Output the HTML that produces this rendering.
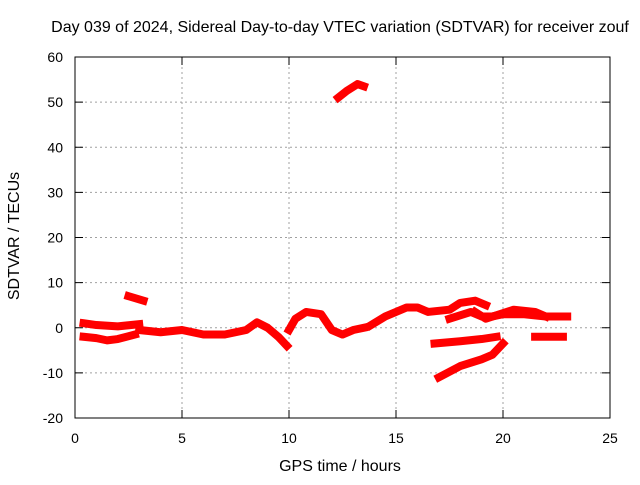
<!DOCTYPE html>
<html><head><meta charset="utf-8"><style>
body{margin:0;background:#fff}
text{font-family:"Liberation Sans",sans-serif;font-size:14px;fill:#000}
.big{font-size:16px}
</style></head><body>
<svg id="c" width="640" height="480">
<text class="big" x="340" y="32" text-anchor="middle">Day 039 of 2024, Sidereal Day-to-day VTEC variation (SDTVAR) for receiver zouf</text>
<text class="big" x="340" y="471" text-anchor="middle">GPS time / hours</text>
<text class="big" transform="translate(19,236) rotate(-90)" text-anchor="middle">SDTVAR / TECUs</text>
<g id="grid"></g><g id="series"></g>
<rect x="75" y="57" width="535" height="361" fill="none" stroke="#000"/>
</svg>
<script>
const xTicks=[0,5,10,15,20,25];
const yTicks=[-20,-10,0,10,20,30,40,50,60];
const tracks=[
[[0.4,1],[1,0.6],[2,0.3],[3,0.8]],
[[0.4,-2],[1,-2.3],[1.5,-2.8],[2,-2.5],[2.8,-1.5]],
[[2.5,7],[3.2,6]],
[[3,-0.5],[4,-1],[5,-0.5],[6,-1.5],[7,-1.5],[8,-0.5],[8.5,1.2],[9,0],[9.5,-2],[9.9,-4]],
[[10,-0.5],[10.3,2],[10.8,3.5],[11.5,3],[12,-0.5],[12.5,-1.5],[13,-0.5],[13.5,0]],
[[12.3,51],[12.7,52.5],[13.2,54],[13.5,53.5]],
[[13.8,0.5],[14.5,2.5],[15.5,4.5],[16,4.5],[16.5,3.5],[17.5,4],[18,5.5],[18.7,6],[19.2,5]],
[[17.5,2],[18.5,3.5],[19,2.5],[19.5,2.5],[20,3],[21,3],[22,2.5],[23,2.5]],
[[18.7,3.5],[19.2,2],[20.5,4],[21.5,3.5],[22,2.5]],
[[16.8,-3.5],[18,-3],[19,-2.5],[19.7,-2]],
[[17,-11],[18,-8.5],[19,-7],[19.5,-6],[20,-3.5]],
[[21.5,-2],[22.8,-2]]
];
const X=v=>75+v*535/25, Y=v=>418-(v+20)*361/80;
const NS="http://www.w3.org/2000/svg";
const g=document.getElementById('grid'), s=document.getElementById('series');
function mk(t,a,p){const e=document.createElementNS(NS,t);for(const k in a)e.setAttribute(k,a[k]);p.appendChild(e);return e;}
xTicks.forEach(v=>{
 if(v>0&&v<25){const l=mk('line',{x1:X(v),x2:X(v),y1:57,y2:418,stroke:'#a0a0a0','stroke-dasharray':'2,3'},g);
 
 }
 mk('line',{x1:X(v),x2:X(v),y1:418,y2:410,stroke:'#000'},g);
 mk('line',{x1:X(v),x2:X(v),y1:57,y2:65,stroke:'#000'},g);
 const t=mk('text',{x:X(v),y:443,'text-anchor':'middle'},g);t.textContent=v;
 
 
});
yTicks.forEach(v=>{
 if(v>-20&&v<60){const l=mk('line',{x1:75,x2:610,y1:Y(v),y2:Y(v),stroke:'#a0a0a0','stroke-dasharray':'2,3'},g);
 
 }
 mk('line',{x1:75,x2:83,y1:Y(v),y2:Y(v),stroke:'#000'},g);
 mk('line',{x1:602,x2:610,y1:Y(v),y2:Y(v),stroke:'#000'},g);
 const t=mk('text',{x:63,y:Y(v)+5,'text-anchor':'end'},g);t.textContent=v;
 
 
});
tracks.forEach(tr=>{
 const p=mk('polyline',{points:tr.map(q=>X(q[0])+','+Y(q[1])).join(' '),fill:'none',stroke:'#f00','stroke-width':8,'stroke-linejoin':'round','stroke-linecap':'square'},s);
 
 
});
</script>
</body></html>
